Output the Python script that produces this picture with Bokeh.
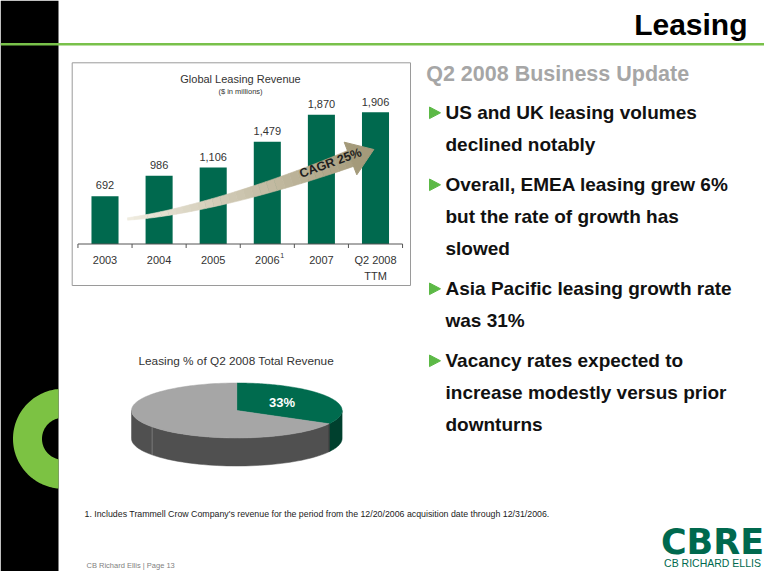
import numpy as np
from bokeh.plotting import figure
from bokeh.models import Range1d, ColumnDataSource
from bokeh.core.properties import value
from bokeh.embed import file_html
from bokeh.resources import INLINE

# ---------------- data ----------------
categories = ["2003", "2004", "2005", "2006", "2007", "Q2 2008"]
category_sub = ["", "", "", "", "", "TTM"]
category_note = ["", "", "", "1", "", ""]
revenue = [692, 986, 1106, 1479, 1870, 1906]
revenue_labels = ["692", "986", "1,106", "1,479", "1,870", "1,906"]
chart_title = "Global Leasing Revenue"
chart_subtitle = "($ in millions)"
cagr_label = "CAGR 25%"

pie_title = "Leasing % of Q2 2008 Total Revenue"
pie_shares = [33, 67]
pie_labels = ["33%", ""]

slide_title = "Leasing"
section_title = "Q2 2008 Business Update"
bullet_lines = [
    ["US and UK leasing volumes", "declined notably"],
    ["Overall, EMEA leasing grew 6%", "but the rate of growth has", "slowed"],
    ["Asia Pacific leasing growth rate", "was 31%"],
    ["Vacancy rates expected to", "increase modestly versus prior", "downturns"],
]
footnote = ("1. Includes Trammell Crow Company's revenue for the period from the "
            "12/20/2006 acquisition date through 12/31/2006.")
footer = "CB Richard Ellis  |  Page 13"
logo_big = "CBRE"
logo_small = "CB RICHARD ELLIS"

# ---------------- styles ----------------
FONT = "Liberation Sans"
GREEN = "#00694e"
LIGHT_GREEN = "#7cc243"
BULLET_GREEN = "#5cb946"

W, H = 764, 571
p = figure(width=W, height=H, x_range=Range1d(0, W), y_range=Range1d(H, 0),
           output_backend="svg", toolbar_location=None, min_border=0,
           x_axis_location=None, y_axis_location=None,
           outline_line_color=None, background_fill_color="white",
           border_fill_color="white")
p.grid.visible = False


def add_text(xs, ys, texts, size, color, align="left", baseline="middle",
             style="normal", font=FONT, angle=0.0, **kw):
    src = ColumnDataSource(dict(x=list(xs), y=list(ys), t=list(texts)))
    p.text(x="x", y="y", text="t", source=src, text_font=value(font),
           text_font_size=f"{size}px", text_color=color, text_align=align,
           text_baseline=baseline, text_font_style=style, angle=angle, **kw)


# ---------------- slide frame ----------------
p.quad(left=0, right=58, top=0, bottom=H + 10, fill_color="black", line_color=None)
p.segment(x0=0, y0=43.7, x1=W + 10, y1=43.7, line_color="#79c14a", line_width=2.5)

# green ring, clipped at the black bar edge
rcx, rcy, r_out, r_in, clip_x = 62.5, 438.3, 50.0, 21.0, 58.0
a_out = np.degrees(np.arccos((clip_x - rcx) / r_out))
a_in = np.degrees(np.arccos((clip_x - rcx) / r_in))
th_o = np.deg2rad(np.linspace(a_out, 360 - a_out, 100))
th_i = np.deg2rad(np.linspace(360 - a_in, a_in, 100))
ring_x = np.concatenate([rcx + r_out * np.cos(th_o), rcx + r_in * np.cos(th_i)])
ring_y = np.concatenate([rcy - r_out * np.sin(th_o), rcy - r_in * np.sin(th_i)])
p.patch(x=ring_x, y=ring_y, fill_color=LIGHT_GREEN, line_color=None)

add_text([747], [23.5], [slide_title], 30, "black", align="right", style="bold")

# ---------------- bar chart ----------------
BASE_PX = 243.5
TOP_PX = 111.7
k = (BASE_PX - TOP_PX) / max(revenue)       # pixels per $m
X0_PX = 104.5
STEP_PX = 54.1
p.extra_x_ranges = {"bx": Range1d((0 - X0_PX) / STEP_PX, (W - X0_PX) / STEP_PX)}
p.extra_y_ranges = {"by": Range1d((BASE_PX - H) / k, (BASE_PX - 0) / k)}

# box
p.quad(left=71.7, right=410, top=62.3, bottom=285, fill_color=None,
       line_color="#9a9a9a", line_width=1)

idx = list(range(len(categories)))
bsrc = ColumnDataSource(dict(x=idx, top=revenue, lab=revenue_labels,
                             cat=categories, sub=category_sub, note=category_note))
p.vbar(x="x", top="top", bottom=0, width=0.5, source=bsrc, fill_color=GREEN,
       line_color=None, x_range_name="bx", y_range_name="by")

# axis line & ticks
n = len(categories)
p.segment(x0=-0.5, y0=0, x1=n - 0.5, y1=0, line_color="#555555", line_width=1,
          x_range_name="bx", y_range_name="by")
edges = [i - 0.5 for i in range(n + 1)]
p.segment(x0=edges, y0=[0] * len(edges), x1=edges, y1=[-4 / k] * len(edges),
          line_color="#555555", line_width=1, x_range_name="bx", y_range_name="by")

p.text(x="x", y="top", text="lab", source=bsrc, text_font=value(FONT),
       text_font_size="11px", text_color="#333333", text_align="center",
       text_baseline="middle", y_offset=-10.7, x_range_name="bx", y_range_name="by")
p.text(x="x", y=0, text="cat", source=bsrc, text_font=value(FONT),
       text_font_size="11px", text_color="#333333", text_align="center",
       text_baseline="middle", y_offset=15.5, x_range_name="bx", y_range_name="by")
p.text(x="x", y=0, text="sub", source=bsrc, text_font=value(FONT),
       text_font_size="11px", text_color="#333333", text_align="center",
       text_baseline="middle", y_offset=31.5, x_range_name="bx", y_range_name="by")
p.text(x="x", y=0, text="note", source=bsrc, text_font=value(FONT),
       text_font_size="7px", text_color="#333333", text_align="left",
       text_baseline="middle", x_offset=13, y_offset=11.5,
       x_range_name="bx", y_range_name="by")

add_text([240], [78.3], [chart_title], 11, "#333333", align="center")
add_text([240], [90.7], [chart_subtitle], 7.5, "#333333", align="center")

# CAGR arrow (decorative)
P0 = np.array([127.0, 218.5]); C1 = np.array([190.0, 212.0])
C2 = np.array([280.0, 185.0]); P3 = np.array([350.0, 158.0])
ts = np.linspace(0, 1, 31)
pts = ((1 - ts) ** 3)[:, None] * P0 + (3 * ts * (1 - ts) ** 2)[:, None] * C1 \
    + (3 * ts ** 2 * (1 - ts))[:, None] * C2 + (ts ** 3)[:, None] * P3
der = (3 * (1 - ts) ** 2)[:, None] * (C1 - P0) + (6 * ts * (1 - ts))[:, None] * (C2 - C1) \
    + (3 * ts ** 2)[:, None] * (P3 - C2)
der = der / np.linalg.norm(der, axis=1)[:, None]
nrm = np.stack([der[:, 1], -der[:, 0]], axis=1)
hw = 1.2 + ts * 7.3
up = pts + nrm * hw[:, None]
lo = pts - nrm * hw[:, None]
c_start = np.array([240, 236, 224]); c_end = np.array([168, 158, 126])
xs_list, ys_list, cols = [], [], []
for i in range(len(ts) - 1):
    xs_list.append([up[i, 0], up[i + 1, 0], lo[i + 1, 0], lo[i, 0]])
    ys_list.append([up[i, 1], up[i + 1, 1], lo[i + 1, 1], lo[i, 1]])
    c = (c_start + (c_end - c_start) * ts[i]).astype(int)
    cols.append("#%02x%02x%02x" % tuple(c))
p.patches(xs=xs_list, ys=ys_list, fill_color=cols, line_color=cols, line_width=0.6)
d = der[-1]; nn = nrm[-1]
tip = P3 + d * 25
b1 = P3 + nn * 17.5; b2 = P3 - nn * 17.5
p.patch(x=[b1[0], tip[0], b2[0]], y=[b1[1], tip[1], b2[1]],
        fill_color="#a49a7a", line_color="#a49a7a")
add_text([330], [162.5], [cagr_label], 12.5, "#1e1e1e", align="center",
         style="bold", angle=np.deg2rad(20))

# ---------------- 3D pie ----------------
add_text([235.7], [360], [pie_title], 11.8, "#333333", align="center")
cx, cy, rx, ry, depth = 236.3, 410.0, 105.3, 27.5, 28.0
top_cols = ["#006b4e", "#a6a6a6"]
side_cols = ["#00402e", "#505050"]
fr = np.array(pie_shares, dtype=float) / sum(pie_shares)
start = 90.0
spans = []
for f in fr:
    end = start - 360 * f
    spans.append((end, start))
    start = end


def ell(th):
    t = np.deg2rad(th)
    return cx + rx * np.cos(t), cy - ry * np.sin(t)


# sides (front half: angles in [-180, 0] mod 360)
for (a, b), sc in zip(spans, side_cols):
    for shift in (0, -360, 360):
        lo_a, hi_b = max(a + shift, -180), min(b + shift, 0)
        if hi_b > lo_a:
            th = np.linspace(lo_a, hi_b, 60)
            x1, y1 = ell(th)
            xs = np.concatenate([x1, x1[::-1]])
            ys = np.concatenate([y1, (y1 + depth)[::-1]])
            p.patch(x=xs, y=ys, fill_color=sc, line_color=sc, line_width=0.5)
# faint seam on the side
sx, sy = ell(-143.5)
p.segment(x0=sx, y0=sy, x1=sx, y1=sy + depth, line_color="#7a7a7a", line_width=1)
bx_, by_ = ell(spans[0][0])
p.segment(x0=bx_, y0=by_, x1=bx_, y1=by_ + depth, line_color="#3a3a3a", line_width=1)

# top faces
for (a, b), tc in zip(spans, top_cols):
    th = np.linspace(a, b, 120)
    x1, y1 = ell(th)
    p.patch(x=np.concatenate([[cx], x1]), y=np.concatenate([[cy], y1]),
            fill_color=tc, line_color=tc, line_width=0.5)
mid = (spans[0][0] + spans[0][1]) / 2
lx, ly = ell(mid)
add_text([cx + (lx - cx) * 0.5], [cy + (ly - cy) * 0.5 - 1.5], [pie_labels[0]], 13,
         "white", align="center", style="bold")

# ---------------- right column ----------------
add_text([425.7], [73.8], [section_title], 21.5, "#a6a6a6", style="bold")
yb = 118.3
for lines in bullet_lines:
    p.patch(x=[429, 429, 440], y=[yb - 11.8, yb - 0.2, yb - 6.0],
            fill_color=BULLET_GREEN, line_color=BULLET_GREEN)
    for j, ln in enumerate(lines):
        add_text([445], [yb + 32 * j - 6.7], [ln], 19, "#111111", style="bold")
    yb += 32 * (len(lines) - 1) + 40

# ---------------- footer ----------------
add_text([84], [513], [footnote], 8.8, "#222222")
add_text([86], [565], [footer], 7.5, "#7f7f7f")
add_text([712], [541.3], [logo_big], 35, GREEN, align="center", style="bold",
         font="DejaVu Sans")
add_text([712], [562.7], [logo_small], 10.5, GREEN, align="center")

open("out.html", "w").write(file_html(p, INLINE))
